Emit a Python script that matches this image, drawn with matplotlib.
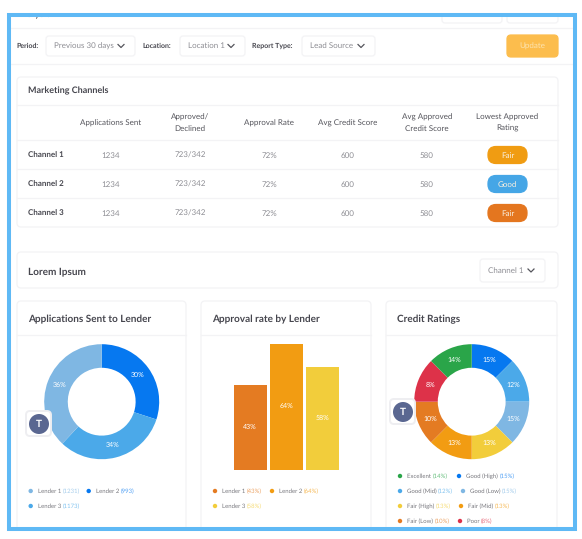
import matplotlib
matplotlib.use("Agg")
import matplotlib.pyplot as plt
from matplotlib.patches import FancyBboxPatch, Circle, Rectangle

plt.rcParams["font.family"] = ["Lato", "DejaVu Sans"]
plt.rcParams["text.hinting"] = "no_hinting"
plt.rcParams["text.hinting_factor"] = 1

W, H = 582, 539

# table
table_columns = ["Applications Sent", "Approved/\nDeclined", "Approval Rate",
                 "Avg Credit Score", "Avg Approved\nCredit Score", "Lowest Approved\nRating"]
channels = ["Channel 1", "Channel 2", "Channel 3"]
apps_sent = ["1234", "1234", "1234"]
approved_declined = ["723/342", "723/342", "723/342"]
approval_rate = ["72%", "72%", "72%"]
avg_score = ["600", "600", "600"]
avg_approved_score = ["580", "580", "580"]
lowest_rating = ["Fair", "Good", "Fair"]
rating_colors = ["#f09c12", "#45a6e6", "#e4761f"]

# applications donut, slices as drawn and labels as printed differ a little
lender_labels = ["Lender 1", "Lender 2", "Lender 3"]
app_slices = [30, 32, 38]
app_slice_labels = ["30%", "34%", "36%"]
app_colors = ["#0678f0", "#4ba9e9", "#7fb7e3"]
app_counts = ["(1231)", "(993)", "(1173)"]

# approval bars
bar_values = [43, 64, 52]
bar_labels = ["43%", "64%", "58%"]
bar_colors = ["#e47b22", "#f29c12", "#f2cd3b"]

# credit donut, drawn as equal slices in the original
credit_slices = [1, 1, 1, 1, 1, 1, 1, 1]
credit_slice_labels = ["15%", "12%", "15%", "13%", "13%", "10%", "8%", "14%"]
credit_colors = ["#0678f0", "#4ba9e9", "#7fb7e3", "#f2cd3b", "#f29c12", "#e47b22", "#dd3249", "#2aa549"]
credit_labels = ["Excellent", "Good (High)", "Good (Mid)", "Good (Low)",
                 "Fair (High)", "Fair (Mid)", "Fair (Low)", "Poor"]
credit_legend_vals = [14, 15, 12, 15, 13, 13, 10, 8]
credit_legend_colors = ["#2aa549", "#0678f0", "#4ba9e9", "#7fb7e3",
                        "#f2cd3b", "#f29c12", "#e47b22", "#dd3249"]

DARK = "#46464e"
GREY = "#8e8e94"
LINE = "#f3f3f5"

fig = plt.figure(figsize=(W / 100, H / 100), dpi=100, facecolor="white")
ax = fig.add_axes([0, 0, 1, 1])
ax.set_xlim(0, W)
ax.set_ylim(H, 0)
ax.axis("off")


def sub_axes(x0, y0, x1, y1):
    a = fig.add_axes([x0 / W, 1 - y1 / H, (x1 - x0) / W, (y1 - y0) / H])
    a.axis("off")
    return a


def box(target, x0, y0, x1, y1, fc="white", ec=LINE, r=3, z=1, lw=0.9):
    p = FancyBboxPatch((x0 + r, y0 + r), x1 - x0 - 2 * r, y1 - y0 - 2 * r,
                       boxstyle=f"round,pad={r},rounding_size={r}", fc=fc, ec=ec, lw=lw, zorder=z)
    target.add_patch(p)


def chevron(x, y, color="#55555c"):
    ax.plot([x - 3, x, x + 3], [y - 1.5, y + 1.5, y - 1.5], color=color, lw=0.9, zorder=3)


def dropdown(x0, x1, label, y0=36, y1=56):
    box(ax, x0, y0, x1, y1)
    ax.text(x0 + 8, (y0 + y1) / 2, label, fontsize=5.5, color=GREY, va="center", zorder=3)
    chevron(x1 - 14, (y0 + y1) / 2)


def legend_item(x, y, name, value, color):
    ax.add_patch(Circle((x, y), 2.2, fc=color, ec="none", zorder=3))
    t = ax.text(x + 7, y, name + " ", fontsize=4.5, color="#77777d", va="center", zorder=3)
    end = t.get_window_extent(fig.canvas.get_renderer()).x1
    ax.text(end, y, value, fontsize=4.5, color=color, alpha=0.7, va="center", zorder=3)


def donut(cx, cy, slices, labels, colors):
    r = 57.5
    a = sub_axes(cx - r, cy - r, cx + r, cy + r)
    _, _, autotexts = a.pie(slices, colors=colors, startangle=90, counterclock=False, radius=1,
                            wedgeprops={"width": 0.41}, autopct="%d%%", pctdistance=0.78,
                            textprops={"color": "white", "fontsize": 4.9})
    for t, lab in zip(autotexts, labels):
        t.set_text(lab)
    a.set_xlim(-1, 1)
    a.set_ylim(-1, 1)
    return a


# page header, mostly hidden by the frame
ax.text(16, 14, "Analysis", fontsize=7, color=DARK, va="center", zorder=1)
box(ax, 442, 6, 502, 23)
box(ax, 507, 6, 558, 23)
ax.plot([10, 573], [28, 28], color=LINE, lw=0.9)
ax.plot([10, 573], [64, 64], color=LINE, lw=0.9)

# filter bar
ax.text(16, 46, "Period:", fontsize=5.2, color=DARK, va="center", fontweight="bold")
dropdown(46, 135, "Previous 30 days")
ax.text(142, 46, "Location:", fontsize=5.4, color=DARK, va="center", fontweight="bold")
dropdown(180, 245, "Location 1")
ax.text(252, 46, "Report Type:", fontsize=5.2, color=DARK, va="center", fontweight="bold")
dropdown(302, 375, "Lead Source")
box(ax, 507, 35, 558, 57, fc="#fcbd4d", ec="#fcbd4d", r=4)
ax.text(532, 46, "Update", fontsize=5.6, color="#fde3ae", ha="center", va="center", zorder=3)

# marketing channels table
box(ax, 17, 77, 558, 227, r=4)
ax.text(28, 90.5, "Marketing Channels", fontsize=6.3, color=DARK, va="center", fontweight="bold", zorder=3)
for y in [105, 140, 169, 198]:
    ax.plot([17, 558], [y, y], color=LINE, lw=0.9, zorder=2)
col_x = [111, 190, 269, 348, 427, 507]
for x, c in zip(col_x, table_columns):
    ax.text(x, 123, c, fontsize=5.6, color="#55555c", ha="center", va="center",
            linespacing=1.55, zorder=3)
row_y = [155, 184, 213]
for i, y in enumerate(row_y):
    ax.text(28, y, channels[i], fontsize=5.5, color=DARK, va="center_baseline", fontweight="bold", zorder=3)
    row = [apps_sent[i], approved_declined[i], approval_rate[i], avg_score[i], avg_approved_score[i]]
    for x, v in zip(col_x, row):
        ax.text(x, y, v, fontsize=5.6, color=GREY, ha="center", va="center_baseline", zorder=3)
    box(ax, 488, y - 8.5, 527, y + 8.5, fc=rating_colors[i], ec=rating_colors[i], r=8, z=2)
    ax.text(507.5, y, lowest_rating[i], fontsize=5.6, color="#f8efe0", ha="center", va="center_baseline", zorder=3)

# lorem ipsum strip
box(ax, 17, 252, 558, 288, r=4)
ax.text(28, 271, "Lorem Ipsum", fontsize=7.3, color=DARK, va="center", fontweight="bold", zorder=3)
dropdown(480, 545, "Channel 1", 259, 282)

# chart cards
cards = [(17, 186, "Applications Sent to Lender"), (201, 371, "Approval rate by Lender"), (386, 557, "Credit Ratings")]
for x0, x1, title in cards:
    box(ax, x0, 301, x1, 545, r=4)
    ax.plot([x0, x1], [335, 335], color=LINE, lw=0.9, zorder=2)
    ax.text(x0 + 11, 319, title, fontsize=6.9, color=DARK, va="center", fontweight="bold", zorder=3)

donut(101.7, 401.7, app_slices, app_slice_labels, app_colors)
donut(471.7, 401.7, credit_slices, credit_slice_labels, credit_colors)

# bars
bar_ax = sub_axes(232, 343.7, 341, 470.3)
bars = bar_ax.bar(range(3), bar_values, width=0.9, color=bar_colors)
bar_ax.set_xlim(-0.5, 2.5)
bar_ax.set_ylim(0, 64)
for b, lab in zip(bars, bar_labels):
    bar_ax.text(b.get_x() + b.get_width() / 2, b.get_height() / 2 + 0.5, lab, color="white",
                fontsize=4.9, ha="center", va="center")

# legends
legend_item(30.7, 491, lender_labels[0], app_counts[0], app_colors[2])
legend_item(88.7, 491, lender_labels[1], app_counts[1], app_colors[0])
legend_item(30.7, 506, lender_labels[2], app_counts[2], app_colors[1])

legend_item(215, 491, lender_labels[0], f"({bar_labels[0]})", bar_colors[0])
legend_item(272, 491, lender_labels[1], f"({bar_labels[1]})", bar_colors[1])
legend_item(215, 506, lender_labels[2], f"({bar_labels[2]})", bar_colors[2])

credit_x = [400, 459, 400, 463, 400, 461, 400, 460]
credit_y = [476, 476, 491, 491, 506, 506, 521, 521]
for i in range(8):
    legend_item(credit_x[i], credit_y[i], credit_labels[i], f"({credit_legend_vals[i]}%)", credit_legend_colors[i])

# floating avatars and blue frame sit above the chart axes
overlay = sub_axes(0, 0, W, H)
overlay.set_xlim(0, W)
overlay.set_ylim(H, 0)

for x, y in [(39, 424), (403, 412)]:
    box(overlay, x - 13, y - 13, x + 12, y + 12, ec="#eeeef1", r=4, z=6, lw=1.4)
    overlay.add_patch(Circle((x, y), 10, fc="#5a6791", ec="none", zorder=7))
    overlay.text(x, y, "T", color="white", fontsize=7, fontweight="bold", ha="center", va="center", zorder=8)

overlay.add_patch(Rectangle((0, 0), W, 13, fc="white", ec="none", zorder=20))
overlay.add_patch(Rectangle((0, 530), W, 9, fc="white", ec="none", zorder=20))
overlay.add_patch(Rectangle((8.5, 14.5), 566.5, 514, fc="none", ec="#5fb9f5", lw=2.9, zorder=21))

fig.savefig("out.png", dpi=100)
